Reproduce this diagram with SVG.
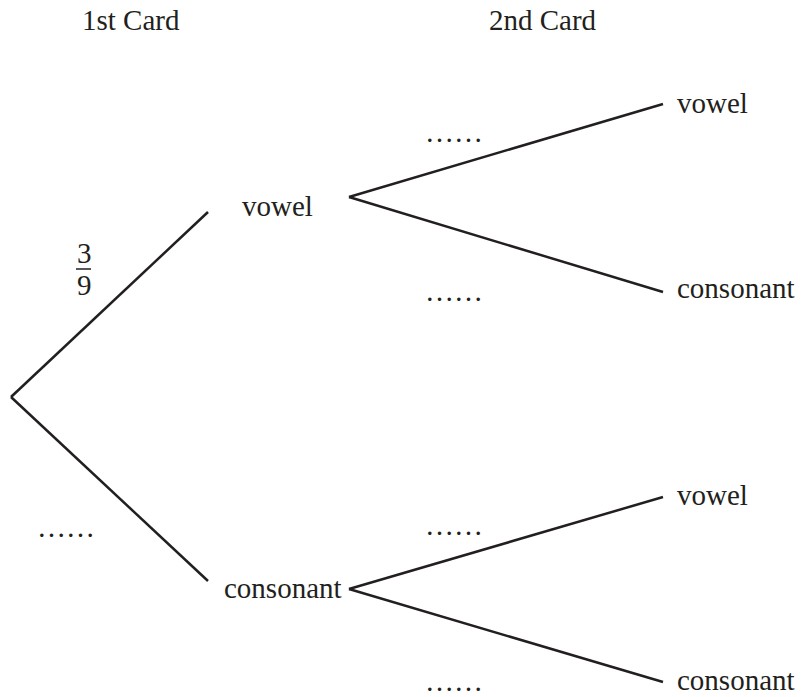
<svg xmlns="http://www.w3.org/2000/svg" width="804" height="697" viewBox="0 0 804 697">
<style>
text{font-family:"Liberation Serif","Times New Roman",serif;font-size:29px;fill:#231f20}
.c{stroke:#231f20;stroke-width:2.5;fill:none;stroke-linecap:butt}
</style>
<rect width="804" height="697" fill="#fff"/>
<g id="headers">
<text x="82" y="30">1st Card</text>
<text x="489" y="30">2nd Card</text>
</g>
<g id="connectors">
<line class="c" x1="11" y1="397" x2="208" y2="212"/>
<line class="c" x1="11" y1="397" x2="208" y2="581"/>
<line class="c" x1="349" y1="197" x2="663" y2="104"/>
<line class="c" x1="349" y1="197" x2="663" y2="292"/>
<line class="c" x1="349" y1="589" x2="663" y2="497"/>
<line class="c" x1="349" y1="589" x2="663" y2="682"/>
</g>
<g id="n-vowel"><text x="242" y="216">vowel</text></g>
<g id="n-consonant"><text x="224" y="598">consonant</text></g>
<g id="n-vv"><text x="677" y="113">vowel</text></g>
<g id="n-vc"><text x="677" y="298">consonant</text></g>
<g id="n-cv"><text x="677" y="505">vowel</text></g>
<g id="n-cc"><text x="677" y="690">consonant</text></g>
<g id="labels">
<text x="77" y="263">3</text>
<line x1="76" y1="269" x2="91" y2="269" stroke="#231f20" stroke-width="1.5"/>
<text x="77" y="295">9</text>
<text x="37" y="537">……</text>
<text x="425" y="142">……</text>
<text x="425" y="301">……</text>
<text x="425" y="535">……</text>
<text x="425" y="691">……</text>
</g>
</svg>
